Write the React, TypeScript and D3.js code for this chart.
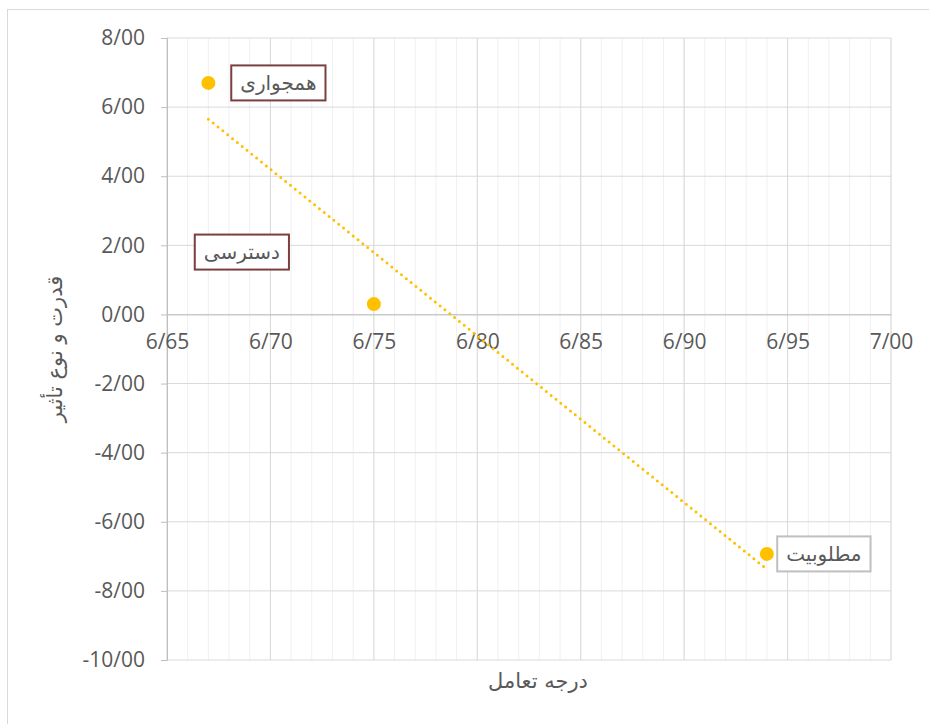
import React, { useEffect, useRef } from "react";
import * as d3 from "d3";

// data
const pointNames = ["همجواری", "دسترسی", "مطلوبیت"];
const xValues = [6.67, 6.75, 6.94];
const yValues = [6.7, 0.3, -6.93];
const xTickValues = [6.65, 6.7, 6.75, 6.8, 6.85, 6.9, 6.95, 7.0];
const yTickValues = [-10, -8, -6, -4, -2, 0, 2, 4, 6, 8];
const xTitle = "درجه تعامل";
const yTitle = "قدرت و نوع تأثیر";

// label box placement relative to its point (pixels)
const labelLayout = [
  { dx: 70, dy: 0, border: "#7B3F3F" },
  { dx: -132, dy: -52, border: "#7B3F3F" },
  { dx: 57, dy: 0, border: "#BFBFBF" },
];

const W = 929;
const H = 724;
const margin = { top: 38, right: 38, bottom: 64, left: 167 };

const fmt = (v: number) =>
  d3.format(".2f")(v).replace(".", "/").replace("\u2212", "-");

const App = () => {
  const svgRef = useRef<SVGSVGElement>(null);

  useEffect(() => {
    const svg = d3.select(svgRef.current);
    svg.selectAll("*").remove();

    const x = d3
      .scaleLinear()
      .domain([6.65, 7.0])
      .range([margin.left, W - margin.right]);
    const y = d3
      .scaleLinear()
      .domain([-10, 8])
      .range([H - margin.bottom, margin.top]);

    // chart border
    svg
      .append("rect")
      .attr("x", 7.5)
      .attr("y", 9.5)
      .attr("width", W + 10)
      .attr("height", H + 10)
      .attr("fill", "white")
      .attr("stroke", "#D9D9D9");

    // minor vertical gridlines
    const minor = d3.range(0, 36).map((i) => 6.65 + i * 0.01);
    svg
      .append("g")
      .selectAll("line")
      .data(minor)
      .enter()
      .append("line")
      .attr("x1", (d) => x(d))
      .attr("x2", (d) => x(d))
      .attr("y1", y(8))
      .attr("y2", y(-10))
      .attr("stroke", "#F0F0F0")
      .attr("stroke-width", 1);

    // major vertical gridlines
    svg
      .append("g")
      .selectAll("line")
      .data(xTickValues)
      .enter()
      .append("line")
      .attr("x1", (d) => x(d))
      .attr("x2", (d) => x(d))
      .attr("y1", y(8))
      .attr("y2", y(-10))
      .attr("stroke", "#D9D9D9");

    // horizontal gridlines
    svg
      .append("g")
      .selectAll("line")
      .data(yTickValues)
      .enter()
      .append("line")
      .attr("x1", x(6.65))
      .attr("x2", x(7.0))
      .attr("y1", (d) => y(d))
      .attr("y2", (d) => y(d))
      .attr("stroke", "#D9D9D9");

    // y axis with ticks
    const yAxis = svg
      .append("g")
      .attr("transform", `translate(${x(6.65)},0)`)
      .call(
        d3
          .axisLeft(y)
          .tickValues(yTickValues)
          .tickFormat((d) => fmt(d as number))
          .tickSize(6)
          .tickPadding(16)
      );
    yAxis.select(".domain").attr("stroke", "#BFBFBF");
    yAxis.selectAll(".tick line").attr("stroke", "#BFBFBF");
    yAxis
      .selectAll("text")
      .attr("fill", "#595959")
      .attr("font-size", 21)
      .attr("font-family", "'Open Sans', sans-serif");

    // x axis at y = 0
    const xAxis = svg
      .append("g")
      .attr("transform", `translate(0,${y(0)})`)
      .call(
        d3
          .axisBottom(x)
          .tickValues(xTickValues)
          .tickFormat((d) => fmt(d as number))
          .tickSize(0)
          .tickPadding(20)
      );
    xAxis.select(".domain").attr("stroke", "#BFBFBF");
    xAxis
      .selectAll("text")
      .attr("fill", "#595959")
      .attr("font-size", 21)
      .attr("font-family", "'Open Sans', sans-serif");

    // linear trendline
    const pts = xValues.map((v, i) => [v, yValues[i]] as [number, number]);
    const mx = d3.mean(xValues) as number;
    const my = d3.mean(yValues) as number;
    const sxy = d3.sum(pts, (p) => (p[0] - mx) * (p[1] - my));
    const sxx = d3.sum(xValues, (v) => (v - mx) * (v - mx));
    const slope = sxy / sxx;
    const icpt = my - slope * mx;
    const xr = d3.extent(xValues) as [number, number];
    svg
      .append("path")
      .datum(xr.map((v) => [v, icpt + slope * v] as [number, number]))
      .attr(
        "d",
        d3
          .line<[number, number]>()
          .x((d) => x(d[0]))
          .y((d) => y(d[1]))
      )
      .attr("fill", "none")
      .attr("stroke", "#FFC000")
      .attr("stroke-width", 3)
      .attr("stroke-linecap", "round")
      .attr("stroke-dasharray", "0 6.2");

    // points
    svg
      .append("g")
      .selectAll("circle")
      .data(pts)
      .enter()
      .append("circle")
      .attr("cx", (d) => x(d[0]))
      .attr("cy", (d) => y(d[1]))
      .attr("r", 7)
      .attr("fill", "#FFC000");

    // data labels
    pts.forEach((p, i) => {
      const cx = x(p[0]) + labelLayout[i].dx;
      const cy = y(p[1]) + labelLayout[i].dy;
      const g = svg.append("g");
      const rect = g.append("rect");
      const t = g
        .append("text")
        .attr("x", cx)
        .attr("y", cy)
        .attr("text-anchor", "middle")
        .attr("dominant-baseline", "central")
        .attr("font-size", 20)
        .attr("font-family", "'DejaVu Sans', sans-serif")
        .attr("fill", "#595959")
        .text(pointNames[i]);
      const w = (t.node() as SVGTextElement).getComputedTextLength() + 18;
      rect
        .attr("x", cx - w / 2)
        .attr("y", cy - 17.5)
        .attr("width", w)
        .attr("height", 35)
        .attr("fill", "white")
        .attr("stroke", labelLayout[i].border)
        .attr("stroke-width", 2);
    });

    // axis titles
    svg
      .append("text")
      .attr("x", (x(6.65) + x(7.0)) / 2 + 9)
      .attr("y", 681)
      .attr("text-anchor", "middle")
      .attr("dominant-baseline", "central")
      .attr("font-size", 21)
      .attr("font-family", "'DejaVu Sans', sans-serif")
      .attr("fill", "#595959")
      .text(xTitle);

    svg
      .append("text")
      .attr(
        "transform",
        `translate(55,${(y(8) + y(-10)) / 2}) rotate(-90)`
      )
      .attr("text-anchor", "middle")
      .attr("dominant-baseline", "central")
      .attr("font-size", 21)
      .attr("font-family", "'DejaVu Sans', sans-serif")
      .attr("fill", "#595959")
      .text(yTitle);
  }, []);

  return (
    <svg
      ref={svgRef}
      width={W}
      height={H}
      style={{ position: "absolute", left: 0, top: 0, background: "white" }}
    ></svg>
  );
};

export default App;
